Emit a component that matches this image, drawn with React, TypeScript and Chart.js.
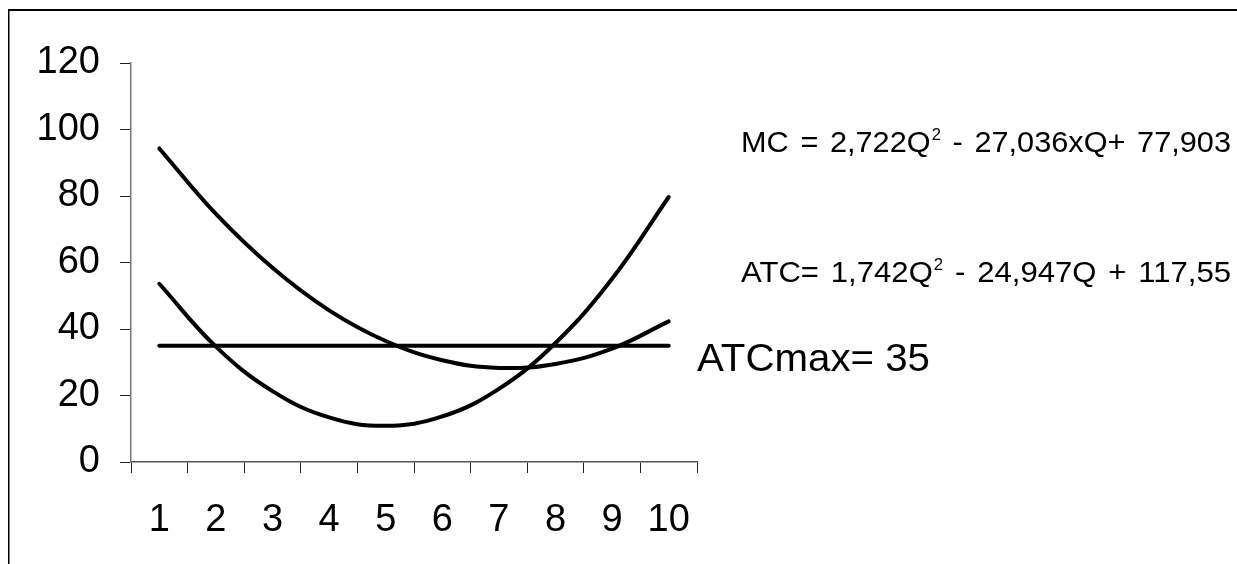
import React, { useEffect, useRef } from "react";
import { Chart, registerables } from "chart.js";

Chart.register(...registerables);

const categories = ["1", "2", "3", "4", "5", "6", "7", "8", "9", "10"];
const mcValues = [53.6, 34.7, 21.3, 13.4, 10.9, 13.7, 22.0, 35.8, 55.1, 79.7];
const atcValues = [94.3, 74.6, 58.4, 45.6, 36.4, 30.6, 28.3, 29.5, 34.1, 42.3];
const atcMaxValues = [35, 35, 35, 35, 35, 35, 35, 35, 35, 35];
const yMin = 0;
const yMax = 120;
const yStep = 20;

const mcText = ["MC = 2,722Q", "2", " - 27,036xQ+ 77,903"];
const atcText = ["ATC= 1,742Q", "2", " - 24,947Q + 117,55"];
const atcMaxText = "ATCmax= 35";

const FONT = "'Liberation Sans', Arial, sans-serif";

function countSpaces(s: string) {
  return s.split(" ").length - 1;
}

function drawEquation(ctx: CanvasRenderingContext2D, parts: string[], x: number, baseline: number, size: number, targetWidth: number) {
  ctx.save();
  const big = `${size}px ${FONT}`;
  const small = `16px ${FONT}`;
  const anyCtx = ctx as any;
  const hasWS = "wordSpacing" in anyCtx;
  const e = hasWS ? 3 : 0;
  if (hasWS) anyCtx.wordSpacing = "0px";
  ctx.font = big;
  const w1 = ctx.measureText(parts[0]).width;
  const w3 = ctx.measureText(parts[2]).width;
  ctx.font = small;
  const w2 = ctx.measureText(parts[1]).width + 1;
  const n1 = countSpaces(parts[0]);
  const n3 = countSpaces(parts[2]);
  const natural = w1 + w2 + w3 + (n1 + n3) * e;
  ctx.translate(x, baseline);
  ctx.scale(targetWidth / natural, 1);
  ctx.fillStyle = "#000";
  ctx.textBaseline = "alphabetic";
  ctx.textAlign = "left";
  ctx.font = big;
  if (hasWS) anyCtx.wordSpacing = `${e}px`;
  ctx.fillText(parts[0], 0, 0);
  const x2 = w1 + n1 * e;
  ctx.font = small;
  ctx.fillText(parts[1], x2 + 1, -12);
  ctx.font = big;
  ctx.fillText(parts[2], x2 + w2, 0);
  ctx.restore();
}

export default function App() {
  const ref = useRef<HTMLCanvasElement>(null);

  useEffect(() => {
    if (!ref.current) return;
    const decor = {
      id: "decor",
      beforeDraw(chart: any) {
        const ctx = chart.ctx as CanvasRenderingContext2D;
        ctx.save();
        ctx.fillStyle = "#fff";
        ctx.fillRect(0, 0, chart.width, chart.height);
        ctx.fillStyle = "#000";
        ctx.fillRect(8, 9, chart.width, 2);
        ctx.fillRect(8, 9, 1.5, chart.height);
        ctx.restore();
      },
      afterDraw(chart: any) {
        const ctx = chart.ctx as CanvasRenderingContext2D;
        drawEquation(ctx, mcText, 741, 152, 29.5, 490);
        drawEquation(ctx, atcText, 741, 282, 29.5, 490);
        ctx.save();
        ctx.fillStyle = "#000";
        ctx.font = `39px ${FONT}`;
        ctx.textBaseline = "alphabetic";
        const w = ctx.measureText(atcMaxText).width;
        ctx.translate(697, 371);
        ctx.scale(233 / w, 1);
        ctx.fillText(atcMaxText, 0, 0);
        ctx.restore();
      },
    };

    const lineStyle = {
      borderColor: "#000",
      borderWidth: 4,
      pointRadius: 0,
      fill: false,
      borderCapStyle: "round" as const,
    };

    const chart = new Chart(ref.current, {
      type: "line",
      data: {
        labels: categories,
        datasets: [
          { label: "MC", data: mcValues, tension: 0.4, ...lineStyle },
          { label: "ATC", data: atcValues, tension: 0.4, ...lineStyle },
          { label: "ATCmax", data: atcMaxValues, tension: 0, ...lineStyle },
        ],
      },
      options: {
        animation: false,
        responsive: true,
        maintainAspectRatio: false,
        layout: { padding: { left: 0, top: 63, right: 540, bottom: 0 } },
        plugins: { legend: { display: false }, tooltip: { enabled: false } },
        scales: {
          x: {
            offset: true,
            afterFit(scale: any) {
              scale.height = 102;
            },
            grid: {
              offset: true,
              drawOnChartArea: false,
              drawTicks: true,
              tickLength: 11,
              color: "#222",
            },
            border: { color: "#555", width: 1.5 },
            ticks: {
              color: "#000",
              font: { family: FONT, size: 38 },
              padding: 25,
              maxRotation: 0,
              autoSkip: false,
            },
          },
          y: {
            min: yMin,
            max: yMax,
            afterFit(scale: any) {
              scale.width = 131;
            },
            grid: {
              drawOnChartArea: false,
              drawTicks: true,
              tickLength: 11,
              color: "#222",
            },
            border: { color: "#777", width: 1.5 },
            ticks: {
              stepSize: yStep,
              color: "#000",
              font: { family: FONT, size: 38 },
              padding: 20,
            },
          },
        },
      },
      plugins: [decor],
    });
    return () => chart.destroy();
  }, []);

  return (
    <div style={{ position: "fixed", left: 0, top: 0, width: 1237, height: 564, background: "#fff" }}>
      <canvas ref={ref} />
    </div>
  );
}
